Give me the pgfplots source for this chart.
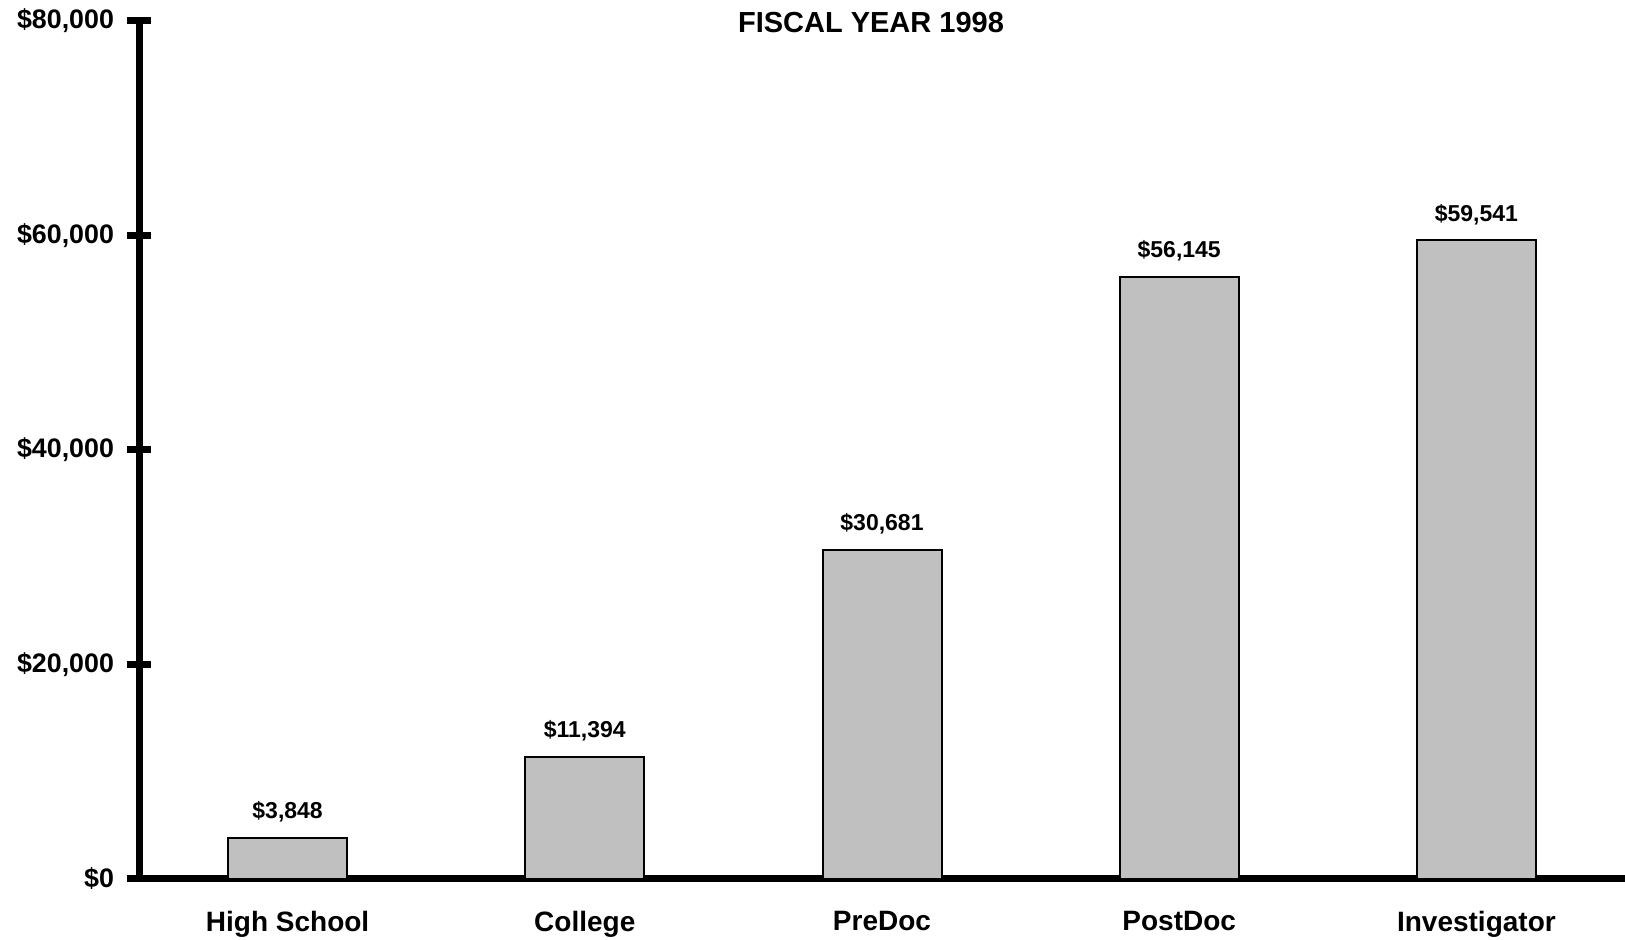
\documentclass[border=0pt]{standalone}
\usepackage{fontspec}
\setmainfont{Liberation Sans}
\usepackage{pgfplots}
\pgfplotsset{compat=1.18}
\definecolor{barfill}{RGB}{192,192,192}
\begin{document}
\begin{tikzpicture}
\begin{axis}[
  at={(69.5pt,30.5pt)}, anchor=south west,
  scale only axis, width=743pt, height=429pt,
  xmin=-0.5, xmax=4.5, ymin=0, ymax=80000,
  axis x line=bottom, axis y line=left,
  axis line style={line width=3.5pt, -},
  ybar, bar width=59.5pt,
  xtick=data,
  xticklabels={High School,College,PreDoc,PostDoc,Investigator},
  ytick={0,20000,40000,60000,80000},
  yticklabels={{\$0},{\$20,000},{\$40,000},{\$60,000},{\$80,000}},
  tick align=center, major tick length=12pt,
  ytick style={line width=3.5pt, black},
  xtick style={draw=none},
  yticklabel style={font=\bfseries\fontsize{13.4}{16}\selectfont, xshift=-3pt},
  xticklabel style={font=\bfseries\fontsize{14}{17}\selectfont, yshift=-6.8pt},
  title={FISCAL YEAR 1998},
  title style={at={(axis description cs:0.4926,1)}, anchor=center, yshift=-6.7pt, font=\bfseries\fontsize{14.5}{17}\selectfont},
  nodes near coords={\$\pgfmathprintnumber[fixed,precision=0,1000 sep={,},assume math mode=true]{\pgfplotspointmeta}},
  nodes near coords style={font=\bfseries\fontsize{11.5}{14}\selectfont, yshift=4pt, black},
  clip=false,
]
\addplot[fill=barfill, draw=black, line width=1pt] coordinates {
  (0,3848) (1,11394) (2,30681) (3,56145) (4,59541)
};
\end{axis}
\pgfresetboundingbox
\path (0,0) rectangle (812.5pt,470pt);
\end{tikzpicture}
\end{document}
